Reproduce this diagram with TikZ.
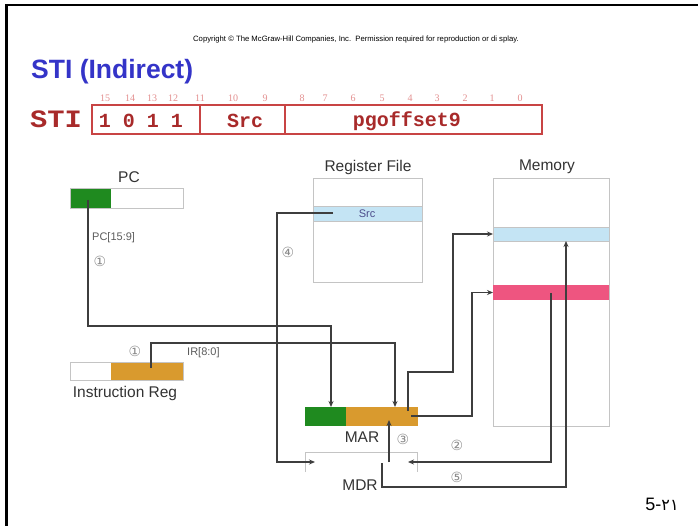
\documentclass[tikz,border=0pt]{standalone}
\usepackage{fontspec}
\setmainfont{Liberation Sans}
\newfontfamily\monob{Liberation Mono}
\newfontfamily\serifr{Liberation Serif}
\newfontfamily\dejavu{DejaVu Sans}
\usetikzlibrary{arrows.meta,calc}

\definecolor{titleblue}{HTML}{3434C8}
\definecolor{fmtred}{HTML}{A82A2A}
\definecolor{fmtline}{HTML}{C84444}
\definecolor{bitred}{HTML}{E39090}
\definecolor{regreen}{HTML}{1F8A1F}
\definecolor{regorange}{HTML}{D99A2E}
\definecolor{rowblue}{HTML}{C4E4F4}
\definecolor{rowpink}{HTML}{EE5580}
\definecolor{boxgray}{HTML}{C4C4C4}
\definecolor{wire}{HTML}{3E3E3E}
\definecolor{labelgray}{HTML}{333333}
\definecolor{stepgray}{HTML}{8A8A8A}

\tikzset{
  part/.style={inner sep=0pt, outer sep=0pt, anchor=north west},
  outline/.style={part, draw=boxgray, line width=0.9pt},
  field/.style={part, draw=fmtline, line width=1.4pt},
  conn/.style={draw=wire, line width=1.3pt, -{Stealth[length=6pt,width=5pt]}},
  lbl/.style={text=labelgray, inner sep=0pt, font=\fontsize{15.5}{18}\selectfont},
  small/.style={text=labelgray!80, inner sep=0pt, font=\fontsize{11}{13}\selectfont},
  stepno/.style={text=stepgray, inner sep=0pt, font=\dejavu\fontsize{14}{16}\selectfont},
  bitno/.style={text=bitred, inner sep=0pt, font=\serifr\fontsize{10}{12}\selectfont},
  fmttext/.style={text=fmtred, inner sep=0pt, font=\monob\bfseries\fontsize{20}{24}\selectfont}
}

\begin{document}
\begin{tikzpicture}[x=1pt,y=-1pt]
\useasboundingbox (0,0) rectangle (698,526);
\fill[white] (0,0) rectangle (698,526);

% slide edge
\draw[line width=2.4pt] (6.5,526) -- (6.5,5) -- (698,5);

% header
\node[inner sep=0pt, font=\fontsize{7.7}{9}\selectfont] (copy) at (356,40)
  {Copyright © The McGraw-Hill Companies, Inc.\ \ Permission required for reproduction or di splay.};
\node[inner sep=0pt, anchor=west, text=titleblue, font=\bfseries\fontsize{26.5}{30}\selectfont] (title) at (31,72) {STI (Indirect)};

% instruction format
\node[inner sep=0pt, text=fmtred, font=\monob\bfseries\fontsize{25}{28}\selectfont, xscale=1.15] (opname) at (56,119) {STI};
\node[field, minimum width=108pt, minimum height=29pt] (fop) at (92,105) {};
\node[field, minimum width=85pt, minimum height=29pt] (fsrc) at (200,105) {};
\node[field, minimum width=257pt, minimum height=29pt] (foff) at (285,105) {};
\node[fmttext] (top) at (141,121) {1 0 1 1};
\node[fmttext] (tsrc) at (245,121) {Src};
\node[fmttext] (toff) at (407,121) {pgoffset9};
\foreach \b/\x in {15/105,14/130,13/152,12/173,11/200,10/233,9/265,8/302,7/325,6/353,5/382,4/410,3/437,2/465,1/492,0/520}
  \node[bitno] (bit\b) at (\x,98) {\b};

% PC
\node[part, fill=regreen, minimum width=41pt, minimum height=20pt] (pcg) at (70,188) {};
\node[outline, minimum width=113pt, minimum height=20pt] (pc) at (70,188) {};
\node[lbl] (pclbl) at (129,177) {PC};

% instruction register
\node[part, fill=regorange, minimum width=72pt, minimum height=18pt] (iro) at (111,362) {};
\node[outline, minimum width=113pt, minimum height=18pt] (ir) at (70,362) {};
\node[lbl] (irlbl) at (125,393) {Instruction Reg};

% register file
\node[outline, minimum width=109pt, minimum height=104pt] (rf) at (313,178) {};
\node[part, fill=rowblue, draw=boxgray, line width=0.9pt, minimum width=109pt, minimum height=15pt] (rfsrc) at (313,206) {};
\node[inner sep=0pt, text=black!65!blue!70, font=\fontsize{11}{13}\selectfont] (srclbl) at (367,213.5) {Src};
\node[lbl] (rflbl) at (368,167) {Register File};

% memory
\node[outline, minimum width=116pt, minimum height=248pt] (mem) at (493,178) {};
\node[part, fill=rowblue, draw=boxgray, line width=0.9pt, minimum width=116pt, minimum height=14pt] (memb) at (493,227) {};
\node[part, fill=rowpink, minimum width=116pt, minimum height=15pt] (memp) at (493,285) {};
\node[lbl] (memlbl) at (547,167) {Memory};

% MAR
\node[part, fill=regreen, minimum width=41pt, minimum height=19pt] (marg) at (305,407) {};
\node[part, fill=regorange, minimum width=72pt, minimum height=19pt] (mar) at (346,407) {};
\node[part, minimum width=113pt, minimum height=19pt] (marall) at (305,407) {};
\node[lbl] (marlbl) at (362,437) {MAR};

% MDR (only its upper part is visible)
\node[part, minimum width=112pt, minimum height=20pt] (mdr) at (305,452) {};
\draw[boxgray, line width=0.9pt] (mdr.south west) -- (mdr.north west) -- (mdr.north east) -- (mdr.south east);
\begin{scope}
  \clip (290,440) rectangle (430,489);
  \node[lbl] (mdrlbl) at (360,485) {MDR};
\end{scope}

% connection points
\coordinate (pcout) at (88,200);
\coordinate (pcdrop) at (331,326);
\coordinate (irout) at (151,368);
\coordinate (irdrop) at (395,343);
\coordinate (srcout) at (333,213);
\coordinate (srcbend) at (277,462);
\coordinate (mdrL) at (315,462);
\coordinate (mdrR) at (408,462);
\coordinate (maro1) at (408,411);
\coordinate (b1) at (453,372);
\coordinate (maro2) at (411,416);
\coordinate (pinkout) at (551,293);
\coordinate (mdrout) at (382,463);
\coordinate (bottom) at (566,487);
\coordinate (mdrup) at (389,462);
\coordinate (marin) at (389,420);

% data paths
\draw[conn] (pcout) |- (pcdrop) -- (marall.north -| pcdrop);
\draw[conn] (irout) |- (irdrop) -- (marall.north -| irdrop);
\draw[conn] (srcout) -| (srcbend) -- (mdrL);
\draw[conn] (maro1) |- (b1) |- (memb.west);
\draw[conn] (maro2) -| ($(memp.west)+(-21,0)$) -- (memp.west);
\draw[conn] (pinkout) |- (mdrR);
\draw[conn] (mdrout) |- (bottom) -- (memb.south -| bottom);
\draw[conn] (mdrup) -- (marin);

% labels on the paths
\node[small, anchor=west] (pcbits) at (92,238) {PC[15:9]};
\node[small, anchor=west] (irbits) at (187,353) {IR[8:0]};
\node[stepno] (s1a) at (100,261) {①};
\node[stepno] (s1b) at (135,351) {①};
\node[stepno] (s4) at (288,252) {④};
\node[stepno] (s3) at (403,439) {③};
\node[stepno] (s2) at (457,445) {②};
\node[stepno] (s5) at (457,477) {⑤};

% page number
\node[inner sep=0pt, font=\fontsize{18}{22}\selectfont] (pageno) at (662,504) {5-{\dejavu\fontsize{16}{18}\selectfont ٢١}};
\end{tikzpicture}
\end{document}
